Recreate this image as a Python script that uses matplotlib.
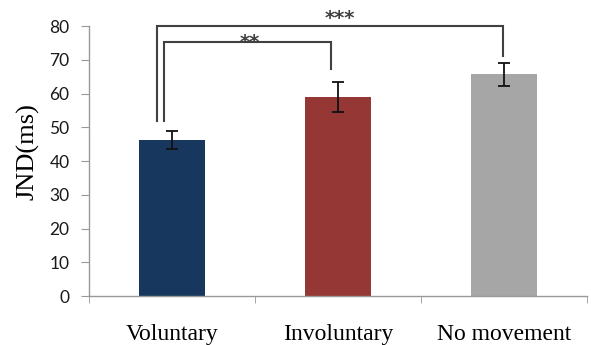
import matplotlib.pyplot as plt

# data
conditions = ['Voluntary', 'Involuntary', 'No movement']
jnd_mean = [46.3, 59.0, 65.7]
jnd_err = [2.6, 4.5, 3.4]
bar_colors = ['#17375E', '#953735', '#A6A6A6']

# significance brackets: (left x, right x, height, left leg end, right leg end, label, label x, label y)
brackets = [
    (-0.05, 0.96, 75.2, 52.0, 67.2, '**', 0.47, 73.6),
    (-0.09, 1.99, 80.0, 52.0, 71.1, '***', 1.01, 80.7),
]

fig = plt.figure(figsize=(5.91, 3.45), dpi=100)
ax = fig.add_axes([0.1506, 0.142, 0.843, 0.7826])

x = range(len(conditions))
ax.bar(x, jnd_mean, width=0.4, color=bar_colors)
ax.errorbar(x, jnd_mean, yerr=jnd_err, fmt='none', ecolor='#111111',
            elinewidth=1.3, capsize=4, capthick=1.3)

for x0, x1, h, l0, l1, lab, lx, ly in brackets:
    ax.plot([x0, x0, x1, x1], [l0, h, h, l1], color='#404040', lw=1.5,
            clip_on=False, solid_joinstyle='miter')
    ax.text(lx, ly, lab, ha='center', va='baseline', fontsize=14,
            fontweight='bold', color='#404040', clip_on=False)

ax.set_xlim(-0.5, 2.5)
ax.set_ylim(0, 80)
ax.set_yticks(range(0, 81, 10))
ax.set_xticks(list(x))
ax.set_xticklabels(conditions, fontfamily='Liberation Serif', fontsize=17)
ax.set_xticks([-0.5, 0.5, 1.5, 2.5], minor=True)
ax.tick_params(axis='x', which='major', length=0, pad=20)
ax.tick_params(axis='x', which='minor', length=5, color='#999999')
ax.tick_params(axis='y', length=6, color='#999999', labelsize=12.5,
               labelcolor='#1a1a1a', pad=8)
for lab in ax.get_yticklabels():
    lab.set_fontfamily('Lato')
ax.set_ylabel('JND(ms)', fontfamily='Liberation Serif', fontsize=19)
ax.yaxis.set_label_coords(-0.1, 0.535)

for s in ['top', 'right']:
    ax.spines[s].set_visible(False)
for s in ['left', 'bottom']:
    ax.spines[s].set_color('#999999')
    ax.spines[s].set_linewidth(1.0)

fig.savefig('out.png', dpi=100)
